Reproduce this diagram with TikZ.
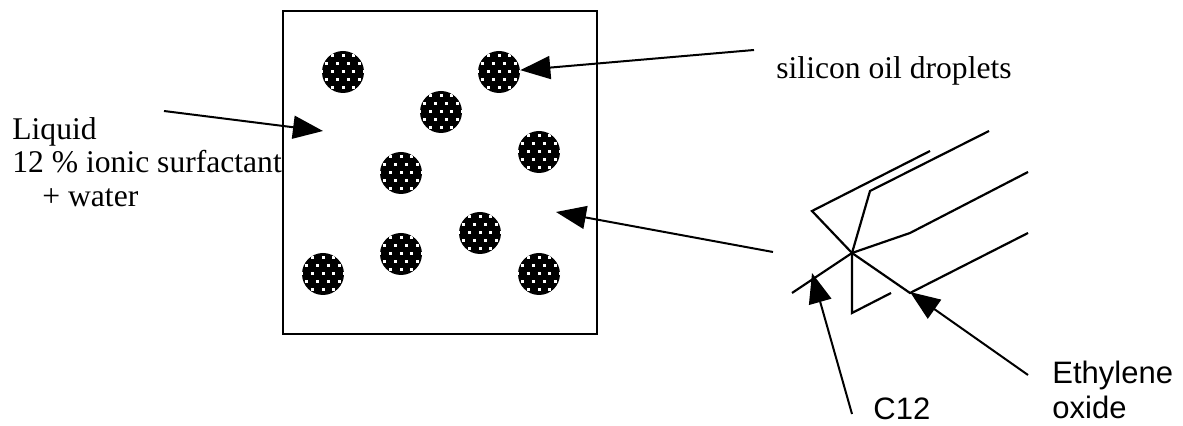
\documentclass[tikz,border=0pt]{standalone}
\usepackage{fontspec}
\setmainfont{Liberation Serif}
\newfontfamily\arialfont{Liberation Sans}
\usetikzlibrary{arrows.meta}

\tikzset{
  droplet/.style={circle,fill=black,inner sep=0pt,minimum size=21pt,
    path picture={
      \foreach \r in {-2,...,2}
        \foreach \c in {-2,...,2}
          \fill[white] ([shift={(\c*10.7-1.5,\r*16-1.5)}]path picture bounding box.center) rectangle +(3,3);
      \foreach \r in {-2,...,1}
        \foreach \c in {-2,...,1}
          \fill[white] ([shift={(\c*10.7+3.85,\r*16+6.5)}]path picture bounding box.center) rectangle +(3,3);
    }},
  pointer/.style={line width=1pt,-{Triangle[length=15pt,width=11.5pt]}},
  chain/.style={line width=1.1pt},
  note/.style={inner sep=0pt,anchor=base west,font=\fontsize{15.8}{17}\selectfont},
  sansnote/.style={note,font=\arialfont\fontsize{15.5}{17}\selectfont},
}

\begin{document}
\begin{tikzpicture}[x=0.5pt,y=-0.5pt]
        \useasboundingbox (0,0) rectangle (1183,426);

        % sample cell
        \draw[line width=1.3pt] (283,11) rectangle (597,334);

        \node[droplet] (d1) at (343,72) {};
        \node[droplet] (d2) at (499,72) {};
        \node[droplet] (d3) at (441,112) {};
        \node[droplet] (d4) at (539,152) {};
        \node[droplet] (d5) at (401,173) {};
        \node[droplet] (d6) at (480,233) {};
        \node[droplet] (d7) at (401,254) {};
        \node[droplet] (d8) at (323,274) {};
        \node[droplet] (d9) at (539,274) {};

        % labels
        \node[note] (oil) at (776,79) {silicon oil droplets};
        \node[note] (liquid) at (12,140) {Liquid};
        \node[note] (ionic) at (12,173) {12 \% ionic surfactant};
        \node[note] (water) at (42,207) {+ water};
        \node[sansnote] (ethylene) at (1052,384) {Ethylene};
        \node[sansnote] (oxide) at (1052,419) {oxide};
        \node[sansnote] (alkyl) at (873,420) {C12};

        % surfactant molecule
        \coordinate (core) at (852,253);
        \draw[chain] (792,293) -- (core);
        \draw[chain] (core) -- (812,211) -- (930,151);
        \draw[chain] (core) -- (870,191) -- (989,131);
        \draw[chain] (core) -- (910,233) -- (1028,172);
        \draw[chain] (core) -- (852,313) -- (891,293);
        \draw[chain] (core) -- (910,293) -- (1028,233);

        % arrows
        \coordinate (oilstart) at (754,50);
        \coordinate (wetstart) at (164,111);
        \coordinate (wettip) at (323,131);
        \coordinate (molstart) at (773,252);
        \coordinate (moltip) at (556,212);
        \coordinate (alkylstart) at (852,414);
        \coordinate (alkyltip) at (812,273);
        \coordinate (headstart) at (1028,375);
        \coordinate (headtip) at (910,292);

        \draw[pointer] (oilstart) -- (d2);
        \draw[pointer] (wetstart) -- (wettip);
        \draw[pointer] (molstart) -- (moltip);
        \draw[pointer] (alkylstart) -- (alkyltip);
        \draw[pointer] (headstart) -- (headtip);
    \end{tikzpicture}
\end{document}
